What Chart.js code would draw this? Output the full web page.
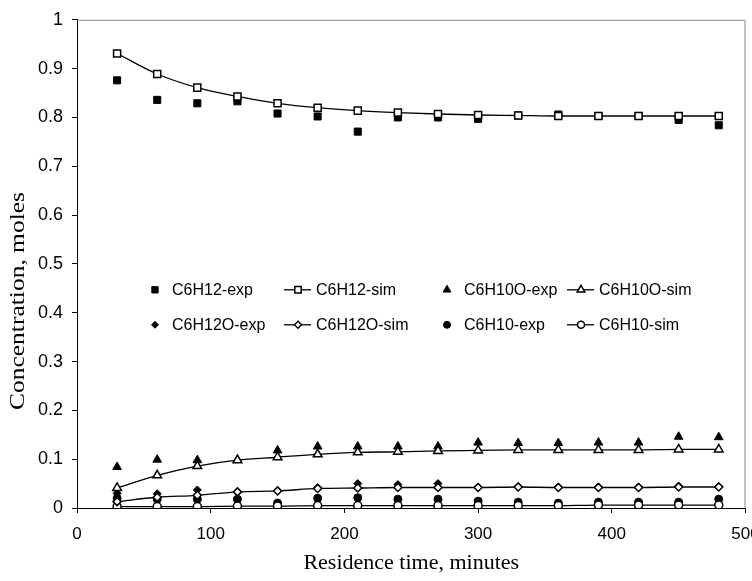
<!DOCTYPE html>
<html>
<head>
<meta charset="utf-8">
<script src="https://cdn.jsdelivr.net/npm/chart.js@4.4.1/dist/chart.umd.min.js"></script>
<style>
  body { margin: 0; background: #fff; }
  #wrap { width: 752px; height: 581px; position: relative; }
</style>
</head>
<body>
<div id="wrap"><canvas id="chart"></canvas></div>
<script>
// residence time, minutes
const times = [30, 60, 90, 120, 150, 180, 210, 240, 270, 300, 330, 360, 390, 420, 450, 480];

const c6h12Exp  = [0.876, 0.836, 0.829, 0.833, 0.808, 0.802, 0.771, 0.800, 0.800, 0.797, 0.804, 0.806, 0.803, 0.803, 0.795, 0.784];
const c6h12Sim  = [0.931, 0.889, 0.861, 0.843, 0.829, 0.820, 0.814, 0.810, 0.807, 0.805, 0.804, 0.803, 0.803, 0.803, 0.803, 0.803];
const c6h10oExp = [0.084, 0.099, 0.098, 0.099, 0.118, 0.126, 0.126, 0.126, 0.126, 0.134, 0.133, 0.133, 0.134, 0.134, 0.146, 0.145];
const c6h10oSim = [0.041, 0.067, 0.086, 0.098, 0.104, 0.110, 0.114, 0.115, 0.117, 0.118, 0.119, 0.119, 0.119, 0.119, 0.120, 0.120];
const c6h12oExp = [0.030, 0.029, 0.037, 0.034, 0.036, 0.042, 0.050, 0.048, 0.050, 0.043, 0.044, 0.043, 0.043, 0.043, 0.045, 0.044];
const c6h12oSim = [0.013, 0.022, 0.026, 0.033, 0.035, 0.040, 0.041, 0.042, 0.042, 0.042, 0.043, 0.042, 0.042, 0.042, 0.043, 0.043];
const c6h10Exp  = [0.020, 0.018, 0.018, 0.018, 0.010, 0.020, 0.021, 0.018, 0.018, 0.014, 0.012, 0.010, 0.012, 0.012, 0.012, 0.018];
const c6h10Sim  = [0.003, 0.003, 0.003, 0.004, 0.004, 0.005, 0.005, 0.005, 0.005, 0.005, 0.005, 0.005, 0.006, 0.006, 0.006, 0.006];

const xTicks = [0, 100, 200, 300, 400, 500];
const yTicks = [0, 0.1, 0.2, 0.3, 0.4, 0.5, 0.6, 0.7, 0.8, 0.9, 1];

const pts = arr => arr.map((v, i) => ({ x: times[i], y: v }));

function expSet(label, arr, style, r) {
    return {
        label: label, data: pts(arr), showLine: false, order: 1,
        pointStyle: style, pointRadius: r, pointHoverRadius: r,
        pointBackgroundColor: '#000', pointBorderColor: '#000', pointBorderWidth: 1
    };
}
function simSet(label, arr, style, r) {
    return {
        label: label, data: pts(arr), showLine: true, order: 0,
        borderColor: '#000', borderWidth: 1.3, cubicInterpolationMode: 'monotone',
        pointStyle: style, pointRadius: r, pointHoverRadius: r,
        pointBackgroundColor: '#fff', pointBorderColor: '#000', pointBorderWidth: 1.5
    };
}

const datasets = [
    expSet('C6H12-exp', c6h12Exp, 'rect', 5),
    simSet('C6H12-sim', c6h12Sim, 'rect', 5),
    expSet('C6H10O-exp', c6h10oExp, 'triangle', 5),
    simSet('C6H10O-sim', c6h10oSim, 'triangle', 5),
    expSet('C6H12O-exp', c6h12oExp, 'rectRot', 4),
    simSet('C6H12O-sim', c6h12oSim, 'rectRot', 4),
    expSet('C6H10-exp', c6h10Exp, 'circle', 4),
    simSet('C6H10-sim', c6h10Sim, 'circle', 4)
];

// gray frame on top and right, plus the y title placed like the original
const framePlugin = {
    id: 'frame',
    beforeDatasetsDraw(chart) {
        const a = chart.chartArea, ctx = chart.ctx;
        ctx.save();
        ctx.strokeStyle = '#888';
        ctx.lineWidth = 1;
        ctx.beginPath();
        ctx.moveTo(a.left, a.top + 0.5);
        ctx.lineTo(a.right - 0.5, a.top + 0.5);
        ctx.lineTo(a.right - 0.5, a.bottom);
        ctx.stroke();

        const label = 'Concentration, moles';
        ctx.font = '22px "Liberation Serif", "Times New Roman", serif';
        const w = ctx.measureText(label).width;
        ctx.translate(18, 301);
        ctx.rotate(-Math.PI / 2);
        ctx.scale(218 / w, 1);
        ctx.fillStyle = '#000';
        ctx.textAlign = 'center';
        ctx.textBaseline = 'middle';
        ctx.fillText(label, 0, 0);
        ctx.restore();
    }
};

// legend inside the plot, two rows of four (Excel style)
const legendPlugin = {
    id: 'insideLegend',
    afterDatasetsDraw(chart) {
        const ctx = chart.ctx, a = chart.chartArea;
        const colX = [a.left + 78, a.left + 207, a.left + 370, a.left + 490];
        const rowY = [a.top + 270, a.top + 305];
        ctx.save();
        ctx.font = '16px "Liberation Sans", Arial, sans-serif';
        ctx.textBaseline = 'middle';
        chart.data.datasets.forEach((ds, i) => {
            const x = colX[i % 4], y = rowY[Math.floor(i / 4)];
            let mx = x, tx = x + 17;
            if (ds.showLine) {
                ctx.strokeStyle = '#000';
                ctx.lineWidth = 1.3;
                ctx.beginPath();
                ctx.moveTo(x, y);
                ctx.lineTo(x + 27, y);
                ctx.stroke();
                mx = x + 14;
                tx = x + 32;
            }
            ctx.fillStyle = ds.pointBackgroundColor;
            ctx.strokeStyle = ds.pointBorderColor;
            ctx.lineWidth = ds.pointBorderWidth;
            Chart.helpers.drawPoint(ctx, {
                pointStyle: ds.pointStyle, radius: ds.pointRadius - 0.5,
                rotation: 0, borderWidth: ds.pointBorderWidth
            }, mx, y);
            ctx.fillStyle = '#000';
            ctx.fillText(ds.label, tx, y + 1);
        });
        ctx.restore();
    }
};

new Chart(document.getElementById('chart'), {
    type: 'scatter',
    data: { datasets: datasets },
    plugins: [framePlugin, legendPlugin],
    options: {
        responsive: true,
        maintainAspectRatio: false,
        animation: false,
        layout: { padding: { top: 18, right: 1, left: 0, bottom: 0 } },
        plugins: { legend: { display: false }, tooltip: { enabled: false } },
        scales: {
            x: {
                type: 'linear', min: 0, max: 500,
                afterBuildTicks: s => { s.ticks = xTicks.map(v => ({ value: v })); },
                afterFit: s => { s.height = 73; s.paddingLeft = 0; s.paddingRight = 0; },
                ticks: {
                    color: '#000', padding: 11, maxRotation: 0, autoSkip: false,
                    font: { family: '"Liberation Sans", Arial, sans-serif', size: 17 },
                    callback: v => String(v)
                },
                grid: { drawOnChartArea: false, drawTicks: true, tickLength: 5, color: '#000', tickColor: '#000' },
                border: { color: '#000', width: 1 },
                title: {
                    display: true, text: 'Residence time, minutes', color: '#000',
                    font: { family: '"Liberation Serif", "Times New Roman", serif', size: 22 },
                    padding: { top: 0, bottom: 5 }
                }
            },
            y: {
                type: 'linear', min: 0, max: 1,
                afterBuildTicks: s => { s.ticks = yTicks.map(v => ({ value: v })); },
                afterFit: s => { s.width = 77; },
                ticks: {
                    color: '#000', padding: 9, autoSkip: false,
                    font: { family: '"Liberation Sans", Arial, sans-serif', size: 18 },
                    callback: v => String(+v.toFixed(1))
                },
                grid: { drawOnChartArea: false, drawTicks: true, tickLength: 5, color: '#000', tickColor: '#000' },
                border: { color: '#000', width: 1 },
                title: { display: false }
            }
        }
    }
});
</script>
</body>
</html>
